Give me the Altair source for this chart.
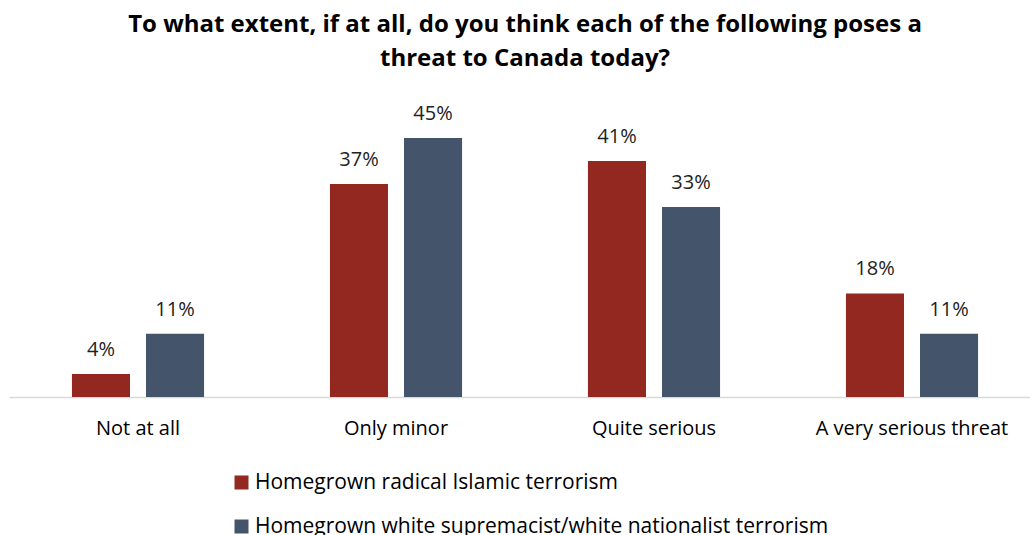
import altair as alt
import pandas as pd

categories = ["Not at all", "Only minor", "Quite serious", "A very serious threat"]
series_names = [
    "Homegrown radical Islamic terrorism",
    "Homegrown white supremacist/white nationalist terrorism",
]
islamic = [4, 37, 41, 18]
white = [11, 45, 33, 11]
colors = ["#922820", "#44546A"]
title_lines = [
    "To what extent, if at all, do you think each of the following poses a",
    "threat to Canada today?",
]

rows = []
for s, vals in zip(series_names, [islamic, white]):
    for c, v in zip(categories, vals):
        rows.append({"category": c, "series": s, "value": v, "label": f"{v}%"})
df = pd.DataFrame(rows)

FONT = "Open Sans"

x = alt.X(
    "category:N",
    sort=categories,
    scale=alt.Scale(range=[0, 1032], paddingInner=0, paddingOuter=0),
    axis=alt.Axis(
        title=None, labelAngle=0, ticks=False, labelPadding=21,
        labelFontSize=20, labelFont=FONT, labelColor="black",
        domainColor="#d9d9d9", domainWidth=1.5, grid=False, labelLimit=400,
    ),
)
xo = alt.XOffset(
    "series:N", sort=series_names,
    scale=alt.Scale(paddingInner=0.216, paddingOuter=0.85),
)
y = alt.Y("value:Q", scale=alt.Scale(domain=[0, 45]), axis=None)

bars = alt.Chart(df).mark_bar().encode(
    x=x, xOffset=xo, y=y,
    color=alt.Color(
        "series:N", sort=series_names,
        scale=alt.Scale(domain=series_names, range=colors),
        legend=alt.Legend(
            title=None, orient="none", legendX=222, legendY=334,
            direction="vertical", symbolType="square", symbolSize=196,
            symbolStrokeWidth=0, labelFont=FONT, labelFontSize=21,
            labelColor="black", labelLimit=800, labelOffset=3, rowPadding=22,
        ),
    ),
)

labels = alt.Chart(df).mark_text(
    dy=-18, baseline="alphabetic", fontSize=20, font=FONT, color="#222222"
).encode(x=x, xOffset=xo, y=y, text="label:N")

chart = alt.layer(bars, labels).properties(
    width=1021,
    height=259,
    autosize=alt.AutoSizeParams(type="none"),
    padding={"left": 9, "top": 138, "right": 0, "bottom": 138},
    title=alt.TitleParams(
        text=title_lines, font=FONT, fontSize=24, fontWeight="bold",
        color="black", anchor="middle", offset=9, lineHeight=34, dx=5.5,
        baseline="bottom",
    ),
).configure_view(stroke=None)

chart.save("out.html", embed_options={"renderer": "svg", "actions": False})
